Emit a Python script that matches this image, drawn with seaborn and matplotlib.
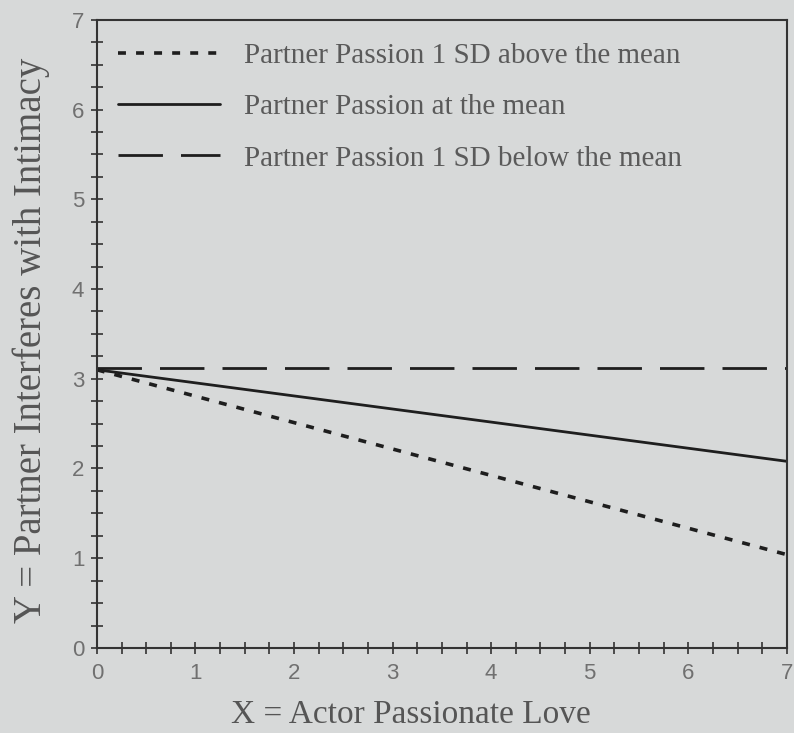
import matplotlib
matplotlib.use("Agg")
import matplotlib.pyplot as plt
from matplotlib.ticker import MultipleLocator
import seaborn as sns
import pandas as pd

# Data (endpoints of the simple-slope lines)
x_vals = [0, 7]
above_mean = [3.10, 1.04]
at_mean = [3.10, 2.08]
below_mean = [3.12, 3.12]
series_labels = [
    "Partner Passion 1 SD above the mean",
    "Partner Passion at the mean",
    "Partner Passion 1 SD below the mean",
]
x_label = "X = Actor Passionate Love"
y_label = "Y = Partner Interferes with Intimacy"

sns.set_theme(style="white")
bg = "#d7d9d9"
plt.rcParams["font.family"] = ["Liberation Serif", "DejaVu Serif"]

fig = plt.figure(figsize=(7.94, 7.33), dpi=100, facecolor=bg)
ax = fig.add_axes([0.122, 0.116, 0.869, 0.857])
ax.set_facecolor(bg)

line_color = "#1e1e1e"
styles = [(0, (2.2, 2.8)), "-", (0, (16, 6.5))]
widths = [2.6, 2.0, 2.0]
for vals, lab, ls, lw in zip([above_mean, at_mean, below_mean], series_labels, styles, widths):
    df = pd.DataFrame({"x": x_vals, "y": vals})
    sns.lineplot(data=df, x="x", y="y", ax=ax, color=line_color,
                 linestyle=ls, linewidth=lw, label=lab)

ax.set_xlim(0, 7)
ax.set_ylim(0, 7)
ax.xaxis.set_major_locator(MultipleLocator(1))
ax.yaxis.set_major_locator(MultipleLocator(1))
ax.xaxis.set_minor_locator(MultipleLocator(0.25))
ax.yaxis.set_minor_locator(MultipleLocator(0.25))
ax.tick_params(which="both", direction="inout", length=8, width=1.2,
               color="#333333", bottom=True, left=True, top=False, right=False)
ax.tick_params(axis="x", which="major", labelsize=16, labelcolor="#707070", pad=7)
ax.tick_params(axis="y", which="major", labelsize=16, labelcolor="#707070", pad=5)
for lbl in ax.get_xticklabels() + ax.get_yticklabels():
    lbl.set_family(["Liberation Sans Narrow", "Liberation Sans", "DejaVu Sans"])

for sp in ax.spines.values():
    sp.set_color("#333333")
    sp.set_linewidth(1.5)
    sp.set_visible(True)

ax.set_xlabel(x_label, fontsize=24, color="#555555")
ax.xaxis.set_label_coords(0.455, -0.082)
ax.set_ylabel(y_label, fontsize=28, color="#555555")
ax.yaxis.set_label_coords(-0.068, 0.489)

leg = ax.legend(loc="upper left", frameon=False, fontsize=21, handlelength=3.5,
                handletextpad=0.85, labelspacing=0.85, borderaxespad=0.0,
                borderpad=0.4, bbox_to_anchor=(0.013, 0.982))
for t in leg.get_texts():
    t.set_color("#5a5a5a")

fig.savefig("out.png", dpi=100, facecolor=bg)
